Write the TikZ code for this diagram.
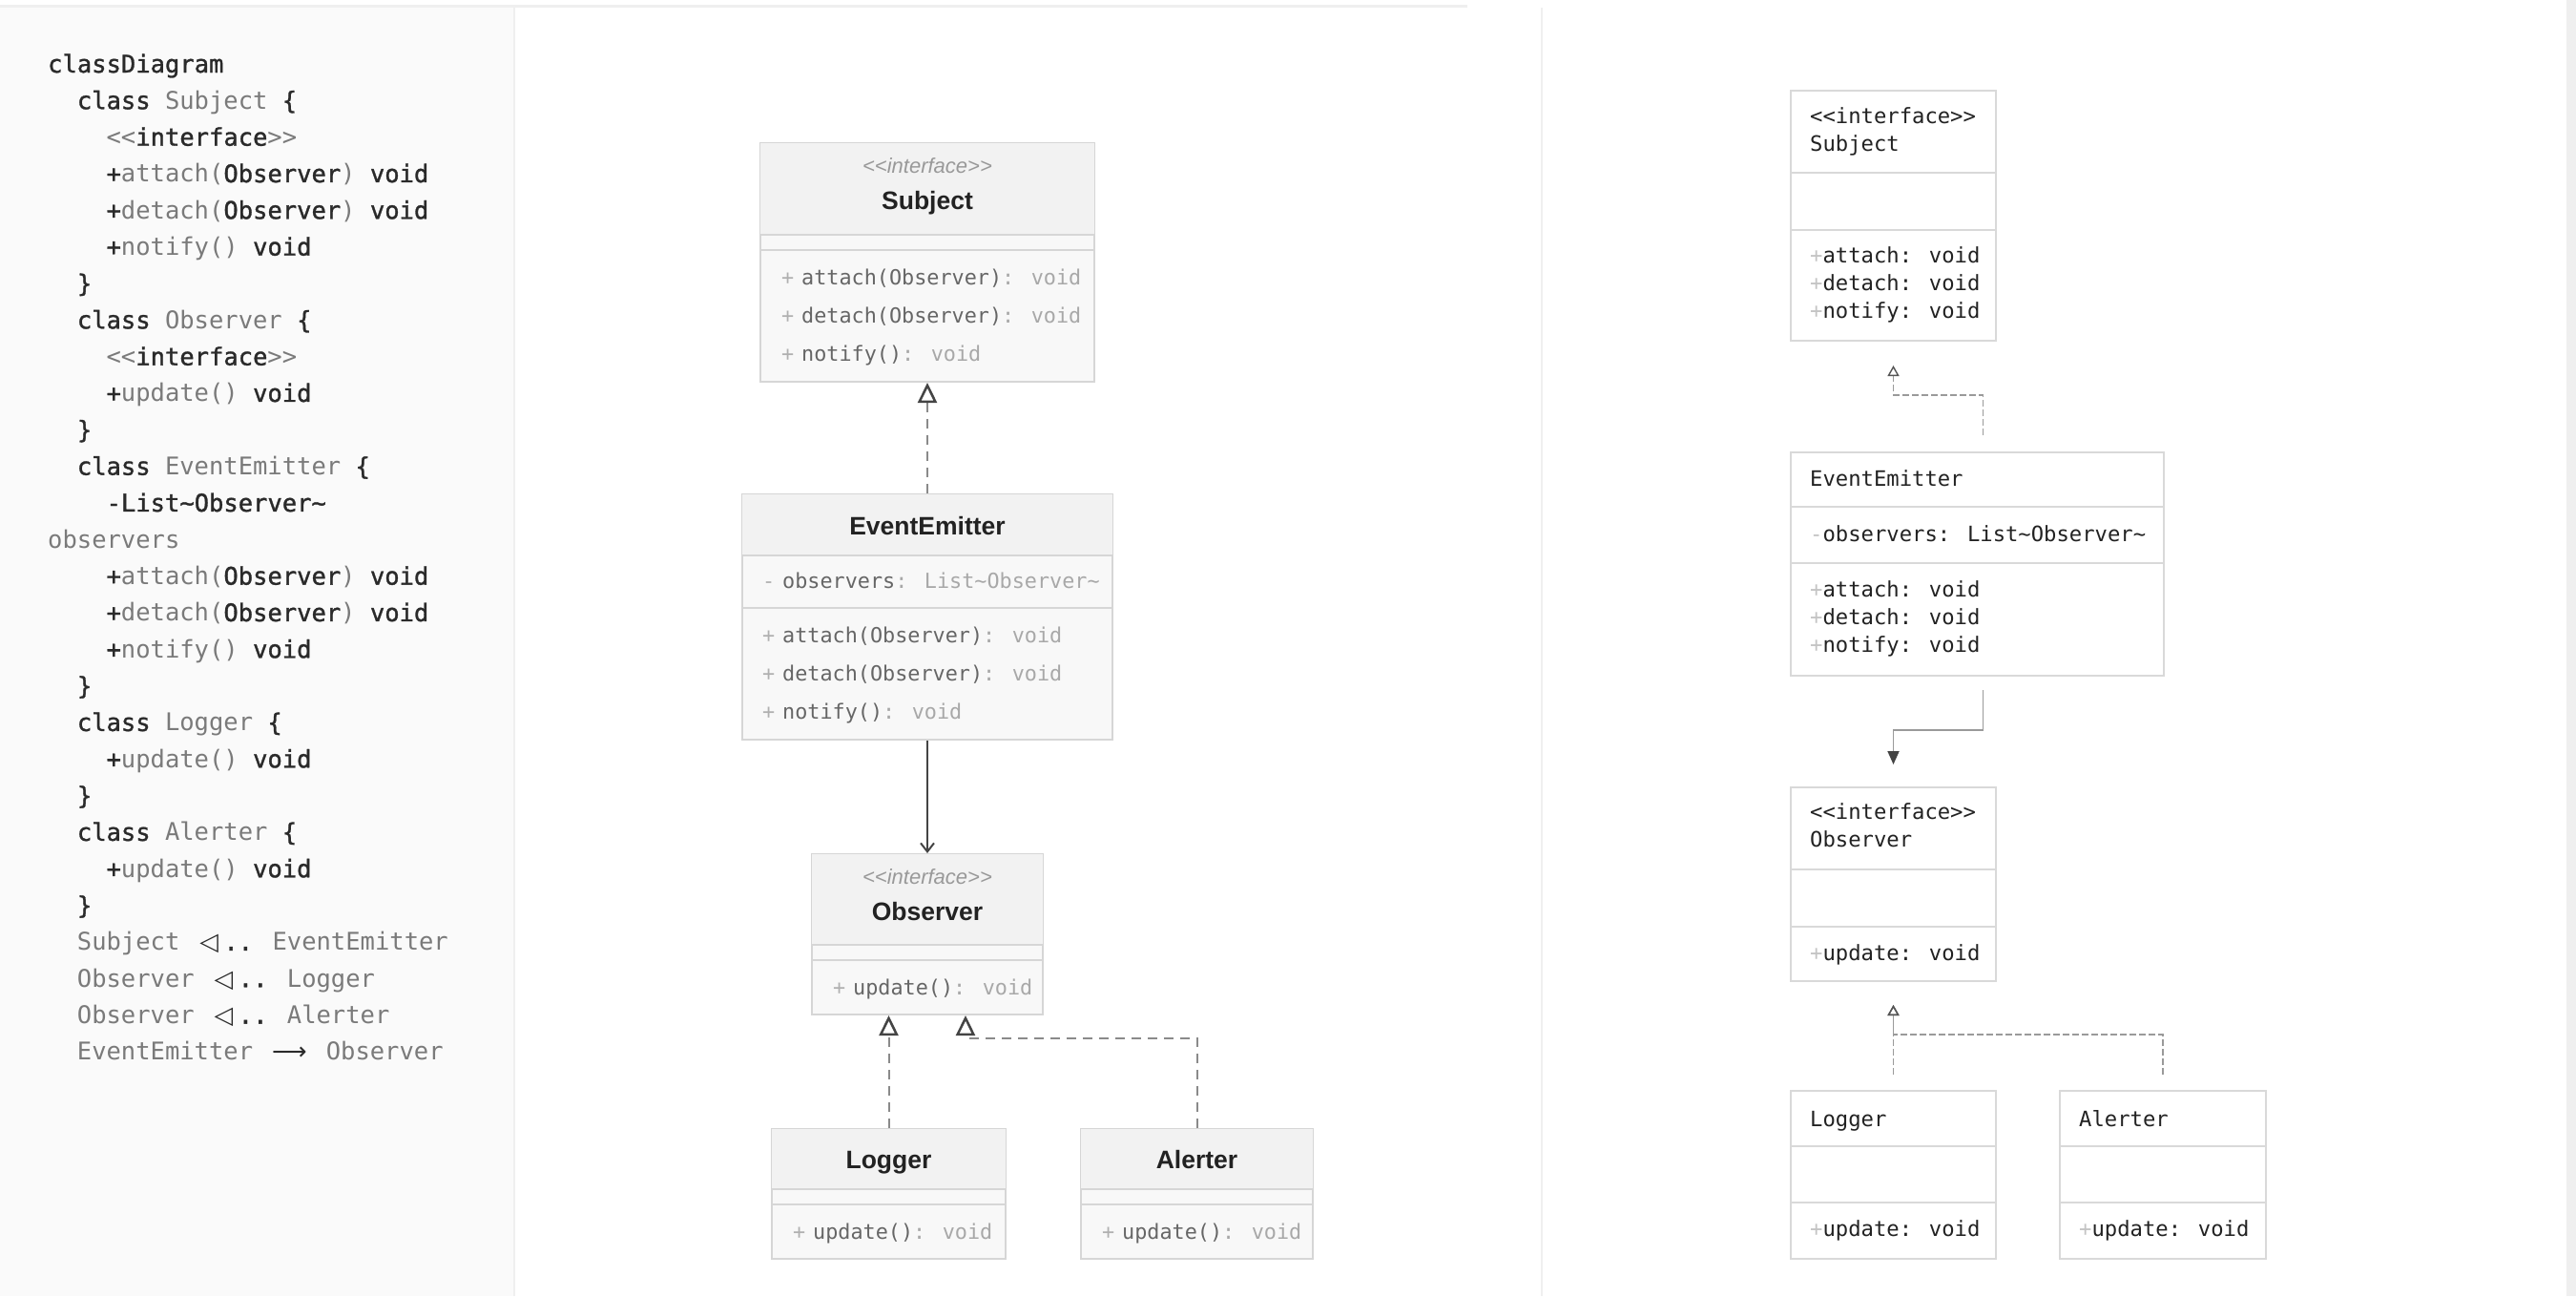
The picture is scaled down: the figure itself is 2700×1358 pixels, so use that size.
\documentclass[tikz,border=0pt]{standalone}
\usepackage{fontspec}
\setmainfont{Liberation Sans}
\newfontfamily\codefont{DejaVu Sans Mono}
\newfontfamily\codesemi[FakeBold=1.2]{DejaVu Sans Mono}
\newfontfamily\symfont{DejaVu Sans}
\usetikzlibrary{arrows.meta,positioning}

\definecolor{codebg}{HTML}{FAFAFA}
\definecolor{panelrule}{HTML}{EFEFEF}
\definecolor{codedark}{HTML}{2A2A2A}
\definecolor{codegray}{HTML}{7A7A7A}
\definecolor{mborder}{HTML}{D6D6D6}
\definecolor{mbody}{HTML}{F8F8F8}
\definecolor{mheadfill}{HTML}{F2F2F2}
\definecolor{mtitlecol}{HTML}{222222}
\definecolor{mstereocol}{HTML}{999999}
\definecolor{mpluscol}{HTML}{B0B0B0}
\definecolor{mnamecol}{HTML}{666666}
\definecolor{mtypecol}{HTML}{A8A8A8}
\definecolor{mdash}{HTML}{8A8A8A}
\definecolor{mtip}{HTML}{444444}
\definecolor{rborder}{HTML}{D9D9D9}
\definecolor{rtextcol}{HTML}{222222}
\definecolor{rpluscol}{HTML}{C4C4C4}
\definecolor{rdash}{HTML}{9A9A9A}
\definecolor{rtip}{HTML}{555555}

% code colouring
\newcommand{\dk}[1]{\textcolor{codedark}{\codesemi #1}}
\newcommand{\gr}[1]{\textcolor{codegray}{#1}}
\newcommand{\ligtri}{\makebox[30.7pt]{\symfont ◁}}
\newcommand{\ligarr}{\makebox[46pt]{\symfont ⟶}}
% member parts
\newcommand{\mplus}{\makebox[21pt][l]{\textcolor{mpluscol}{+}}}
\newcommand{\mminus}{\makebox[21pt][l]{\textcolor{mpluscol}{-}}}
\newcommand{\mtype}[1]{\textcolor{mtypecol}{#1}}
\newcommand{\rplus}{\textcolor{rpluscol}{+}}
\newcommand{\rminus}{\textcolor{rpluscol}{-}}

% name, cx, cy, width, height, header depth, second rule depth
\newcommand{\midclass}[7]{%
  \node[mbox, minimum width=#4pt, minimum height=#5pt] (#1) at (#2,#3) {};
  \fill[mheadfill] ([shift={(1pt,-1pt)}]#1.north west) rectangle ([shift={(-1pt,-#6pt)}]#1.north east);
  \draw[mrule] ([yshift=-#6pt]#1.north west) -- ([yshift=-#6pt]#1.north east);
  \draw[mrule] ([yshift=-#7pt]#1.north west) -- ([yshift=-#7pt]#1.north east);
}
\newcommand{\rclass}[7]{%
  \node[rbox, minimum width=#4pt, minimum height=#5pt] (#1) at (#2,#3) {};
  \draw[rrule] ([yshift=-#6pt]#1.north west) -- ([yshift=-#6pt]#1.north east);
  \draw[rrule] ([yshift=-#7pt]#1.north west) -- ([yshift=-#7pt]#1.north east);
}

\begin{document}
\begin{tikzpicture}[%
    x=1pt, y=-1pt,
    codeline/.style={anchor=base west, inner sep=0pt, font=\codefont\fontsize{25.5}{30}\selectfont},
    mbox/.style={rectangle, draw=mborder, line width=2pt, fill=mbody, inner sep=0pt},
    mrule/.style={draw=mborder, line width=1.6pt},
    mtitle/.style={anchor=base, inner sep=0pt, text=mtitlecol, font=\bfseries\fontsize{26.5}{30}\selectfont},
    mstereo/.style={anchor=base, inner sep=0pt, text=mstereocol, font=\itshape\fontsize{22}{26}\selectfont},
    mmember/.style={anchor=base west, inner sep=0pt, text=mnamecol, font=\codefont\fontsize{21.8}{26}\selectfont},
    realize/.style={draw=mdash, line width=2pt, dash pattern=on 10pt off 7pt,
      -{Triangle[open, length=21pt, width=20pt, line width=2.5pt, color=mtip]}},
    assoc/.style={draw=mtip, line width=2pt, -{Straight Barb[length=9pt, width=14pt, line width=2pt]}},
    rbox/.style={rectangle, draw=rborder, line width=2pt, fill=white, inner sep=0pt},
    rrule/.style={draw=rborder, line width=2pt},
    rtext/.style={anchor=base west, inner sep=0pt, text=rtextcol, font=\codefont\fontsize{22.2}{28}\selectfont},
    rrealize/.style={draw=rdash, line width=1.8pt, dash pattern=on 7pt off 3pt,
      -{Triangle[open, length=11pt, width=12pt, line width=1.4pt, color=rtip]}},
    rassoc/.style={draw=rdash, line width=1.8pt, -{Triangle[length=14pt, width=12pt, color=mtip]}}
    ]
    \useasboundingbox (0,0) rectangle (2700,1358);
    \fill[white] (0,0) rectangle (2700,1358);

    % panels
    \fill[codebg] (0,8) rectangle (539,1358);
    \fill[panelrule] (538,8) rectangle (540,1358);
    \fill[panelrule] (0,5) rectangle (1538,8);
    \fill[panelrule] (1615,8) rectangle (1617,1358);
    \fill[panelrule] (2690,0) rectangle (2700,1358);

    % source text
    \foreach \ind/\txt [count=\i] in {
        0/{\dk{classDiagram}},
        2/{\dk{class} \gr{Subject} \dk{\{}},
        4/{\gr{<<}\dk{interface}\gr{>>}},
        4/{\dk{+}\gr{attach(}\dk{Observer}\gr{)} \dk{void}},
        4/{\dk{+}\gr{detach(}\dk{Observer}\gr{)} \dk{void}},
        4/{\dk{+}\gr{notify()} \dk{void}},
        2/{\dk{\}}},
        2/{\dk{class} \gr{Observer} \dk{\{}},
        4/{\gr{<<}\dk{interface}\gr{>>}},
        4/{\dk{+}\gr{update()} \dk{void}},
        2/{\dk{\}}},
        2/{\dk{class} \gr{EventEmitter} \dk{\{}},
        4/{\dk{-List\string~Observer\string~}},
        0/{\gr{observers}},
        4/{\dk{+}\gr{attach(}\dk{Observer}\gr{)} \dk{void}},
        4/{\dk{+}\gr{detach(}\dk{Observer}\gr{)} \dk{void}},
        4/{\dk{+}\gr{notify()} \dk{void}},
        2/{\dk{\}}},
        2/{\dk{class} \gr{Logger} \dk{\{}},
        4/{\dk{+}\gr{update()} \dk{void}},
        2/{\dk{\}}},
        2/{\dk{class} \gr{Alerter} \dk{\{}},
        4/{\dk{+}\gr{update()} \dk{void}},
        2/{\dk{\}}},
        2/{\gr{Subject} \dk{\ligtri..} \gr{EventEmitter}},
        2/{\gr{Observer} \dk{\ligtri..} \gr{Logger}},
        2/{\gr{Observer} \dk{\ligtri..} \gr{Alerter}},
        2/{\gr{EventEmitter} \dk{\ligarr} \gr{Observer}}}
      \node[codeline] (code\i) at ({50+\ind*15.35}, {76+(\i-1)*38.33}) {\txt};

    % rendered diagram
    \midclass{subject}{972}{275}{350}{250}{97}{113}
    \midclass{emitter}{972}{646.5}{388}{257}{65}{120}
    \midclass{observer}{972}{979}{242}{168}{96}{112}
    \midclass{logger}{931.5}{1251}{245}{136}{64}{80}
    \midclass{alerter}{1254.5}{1251}{243}{136}{64}{80}

    \node[mstereo] (subject-st) at ([yshift=-32pt]subject.north) {{<}{<}interface{>}{>}};
    \node[mtitle] (subject-name) at ([yshift=-70pt]subject.north) {Subject};
    \node[mmember] (subject-m1) at ([shift={(23pt,-149pt)}]subject.north west) {\mplus attach(Observer)\mtype{: void}};
    \node[mmember] (subject-m2) at ([shift={(23pt,-189pt)}]subject.north west) {\mplus detach(Observer)\mtype{: void}};
    \node[mmember] (subject-m3) at ([shift={(23pt,-229pt)}]subject.north west) {\mplus notify()\mtype{: void}};

    \node[mtitle] (emitter-name) at ([yshift=-43pt]emitter.north) {EventEmitter};
    \node[mmember] (emitter-a1) at ([shift={(22pt,-99pt)}]emitter.north west) {\mminus observers\mtype{: List\string~Observer\string~}};
    \node[mmember] (emitter-m1) at ([shift={(22pt,-156pt)}]emitter.north west) {\mplus attach(Observer)\mtype{: void}};
    \node[mmember] (emitter-m2) at ([shift={(22pt,-196pt)}]emitter.north west) {\mplus detach(Observer)\mtype{: void}};
    \node[mmember] (emitter-m3) at ([shift={(22pt,-236pt)}]emitter.north west) {\mplus notify()\mtype{: void}};

    \node[mstereo] (observer-st) at ([yshift=-32pt]observer.north) {{<}{<}interface{>}{>}};
    \node[mtitle] (observer-name) at ([yshift=-70pt]observer.north) {Observer};
    \node[mmember] (observer-m1) at ([shift={(23pt,-148pt)}]observer.north west) {\mplus update()\mtype{: void}};

    \node[mtitle] (logger-name) at ([yshift=-42pt]logger.north) {Logger};
    \node[mmember] (logger-m1) at ([shift={(23pt,-116pt)}]logger.north west) {\mplus update()\mtype{: void}};
    \node[mtitle] (alerter-name) at ([yshift=-42pt]alerter.north) {Alerter};
    \node[mmember] (alerter-m1) at ([shift={(23pt,-116pt)}]alerter.north west) {\mplus update()\mtype{: void}};

    \draw[realize] (emitter) -- (subject);
    \draw[assoc] (emitter) -- (observer);
    \draw[realize] (logger.north) -- (logger.north |- observer.south);
    \draw[realize] (alerter.north) |- ([shift={(40pt,-24pt)}]observer.south) -- ([xshift=40pt]observer.south);

    % plain render
    \rclass{rsubject}{1984.5}{226}{215}{262}{87}{147}
    \rclass{remitter}{2072.5}{591}{391}{234}{58}{117}
    \rclass{robserver}{1984.5}{926.5}{215}{203}{87}{147}
    \rclass{rlogger}{1984.5}{1231}{215}{176}{59}{118}
    \rclass{ralerter}{2267}{1231}{216}{176}{59}{118}

    \node[rtext] (rsubject-st) at ([shift={(21pt,-35pt)}]rsubject.north west) {{<}{<}interface{>}{>}};
    \node[rtext] (rsubject-name) at ([shift={(21pt,-64pt)}]rsubject.north west) {Subject};
    \node[rtext] (rsubject-m1) at ([shift={(21pt,-181pt)}]rsubject.north west) {\rplus attach: void};
    \node[rtext] (rsubject-m2) at ([shift={(21pt,-210pt)}]rsubject.north west) {\rplus detach: void};
    \node[rtext] (rsubject-m3) at ([shift={(21pt,-239pt)}]rsubject.north west) {\rplus notify: void};

    \node[rtext] (remitter-name) at ([shift={(21pt,-36pt)}]remitter.north west) {EventEmitter};
    \node[rtext] (remitter-a1) at ([shift={(21pt,-94pt)}]remitter.north west) {\rminus observers: List\string~Observer\string~};
    \node[rtext] (remitter-m1) at ([shift={(21pt,-152pt)}]remitter.north west) {\rplus attach: void};
    \node[rtext] (remitter-m2) at ([shift={(21pt,-181pt)}]remitter.north west) {\rplus detach: void};
    \node[rtext] (remitter-m3) at ([shift={(21pt,-210pt)}]remitter.north west) {\rplus notify: void};

    \node[rtext] (robserver-st) at ([shift={(21pt,-34pt)}]robserver.north west) {{<}{<}interface{>}{>}};
    \node[rtext] (robserver-name) at ([shift={(21pt,-63pt)}]robserver.north west) {Observer};
    \node[rtext] (robserver-m1) at ([shift={(21pt,-182pt)}]robserver.north west) {\rplus update: void};

    \node[rtext] (rlogger-name) at ([shift={(21pt,-38pt)}]rlogger.north west) {Logger};
    \node[rtext] (rlogger-m1) at ([shift={(21pt,-153pt)}]rlogger.north west) {\rplus update: void};
    \node[rtext] (ralerter-name) at ([shift={(21pt,-38pt)}]ralerter.north west) {Alerter};
    \node[rtext] (ralerter-m1) at ([shift={(21pt,-153pt)}]ralerter.north west) {\rplus update: void};

    \draw[rrealize] ([shift={(6pt,17pt)}]remitter.north) -- ++(0pt,42pt) -| ([yshift=-25pt]rsubject.south);
    \draw[rassoc] ([shift={(6pt,-14pt)}]remitter.south) -- ++(0pt,-42pt) -| ([yshift=23pt]robserver.north);
    \draw[rrealize] ([yshift=16pt]rlogger.north) -- ([yshift=-24pt]robserver.south);
    \draw[rrealize] ([yshift=16pt]ralerter.north) -- ++(0pt,42pt) -| ([yshift=-24pt]robserver.south);
\end{tikzpicture}
\end{document}
